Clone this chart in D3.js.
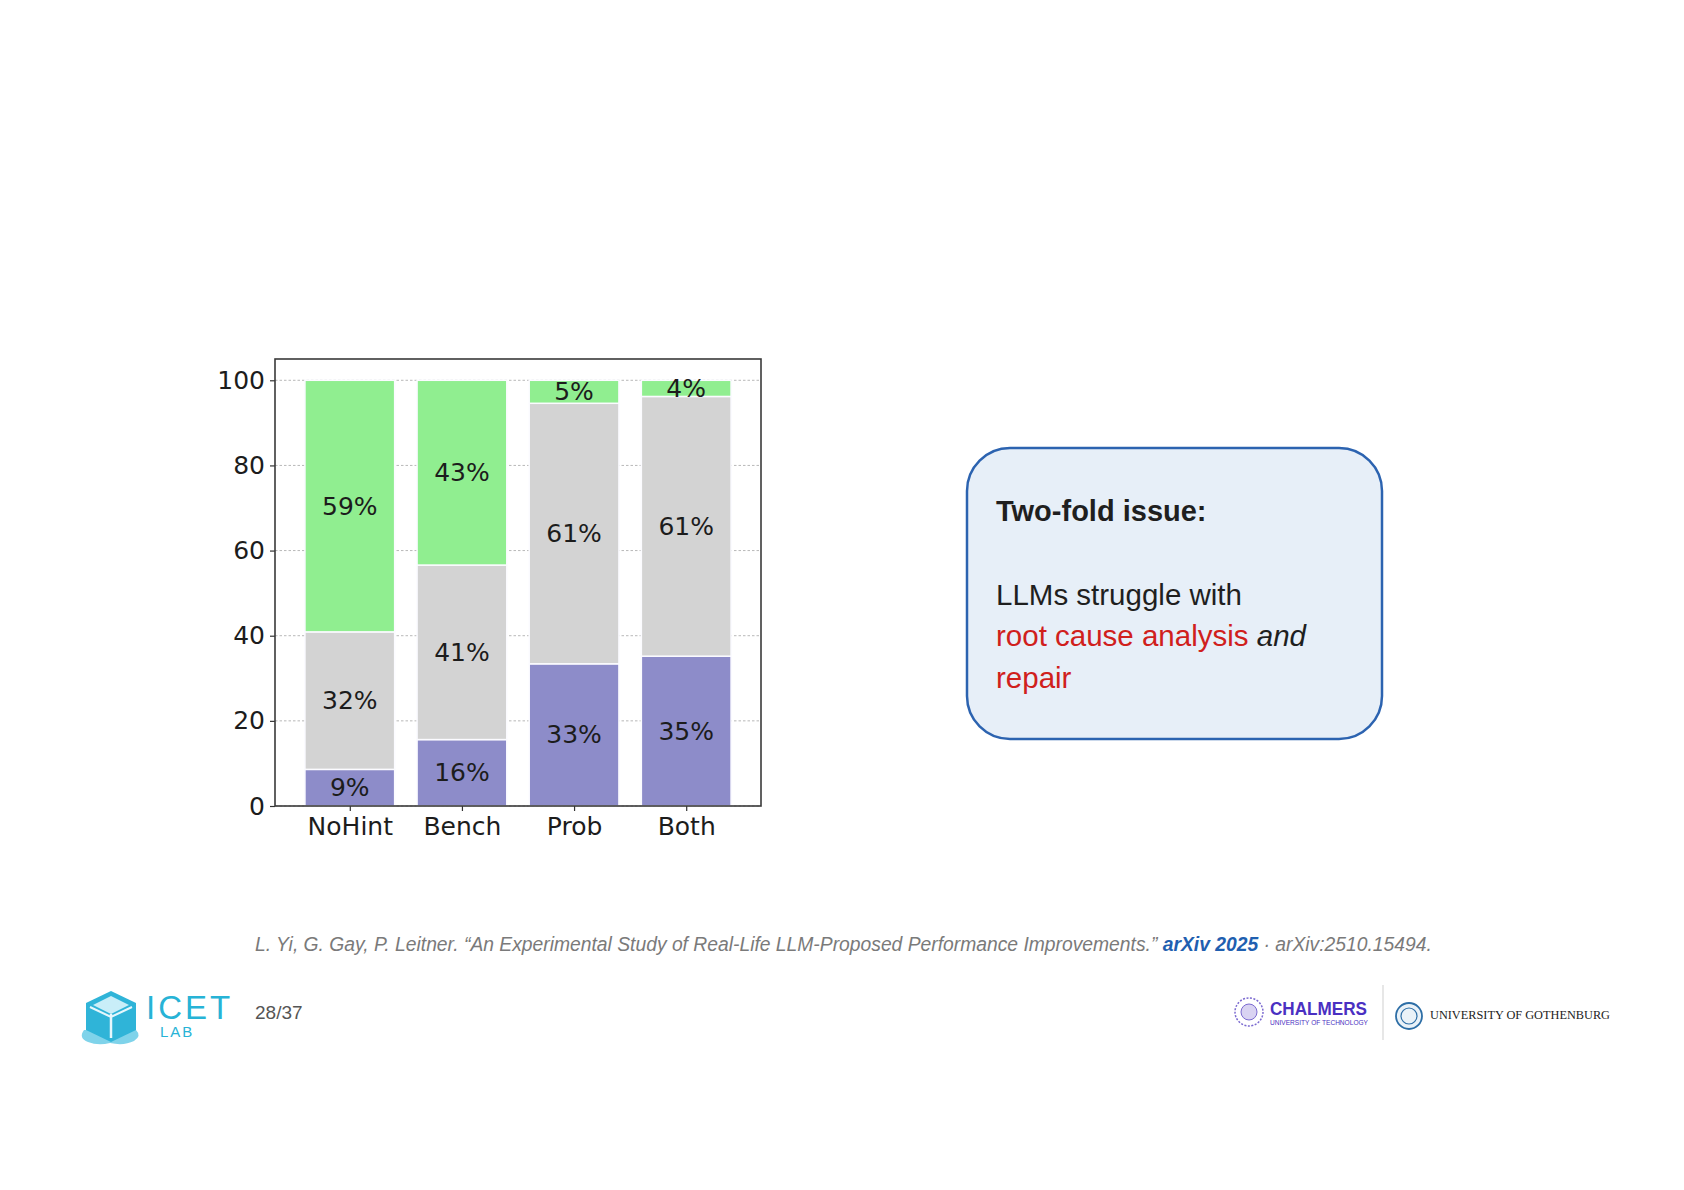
<!DOCTYPE html>
<html>
<head>
<meta charset="utf-8">
<script src="https://cdn.jsdelivr.net/npm/d3@7"></script>
<style>
  html, body { margin: 0; padding: 0; background: #fff; }
  svg { display: block; }
</style>
</head>
<body>
<svg id="slide" width="1684" height="1190"></svg>
<script>
// values (percent of cases per hint setting)
const categories = ["NoHint", "Bench", "Prob", "Both"]
const purpleShare = [8.6, 15.6, 33.4, 35.2]
const grayShare = [32.3, 41.0, 61.2, 61.0]
const greenShare = [59.1, 43.4, 5.4, 3.8]
const yTicks = [0, 20, 40, 60, 80, 100]

const keys = ["purple", "gray", "green"]
const colors = { purple: "#8d8cc9", gray: "#d3d3d3", green: "#90ee90" }

const rows = categories.map((c, i) => ({
  cat: c, idx: i,
  purple: purpleShare[i], gray: grayShare[i], green: greenShare[i]
}))

const svg = d3.select("#slide")

// ---- bar chart ----
const frame = { left: 275, right: 761, top: 359, bottom: 806 }

const x = d3.scaleLinear()
  .domain([-0.667, categories.length - 1 + 0.667])
  .range([frame.left, frame.right])
const y = d3.scaleLinear()
  .domain([0, 105])
  .range([frame.bottom, frame.top])
const barW = x(0.8) - x(0)

const chart = svg.append("g").style("font-family", "'DejaVu Sans', sans-serif")

// dashed grid behind the bars
chart.append("g")
  .selectAll("line")
  .data(yTicks)
  .join("line")
  .attr("x1", frame.left).attr("x2", frame.right)
  .attr("y1", d => y(d)).attr("y2", d => y(d))
  .attr("stroke", "#b8b8b8")
  .attr("stroke-width", 1)
  .attr("stroke-dasharray", "2.5,2")

const stacked = d3.stack().keys(keys)(rows)

const layers = chart.append("g")
  .selectAll("g")
  .data(stacked)
  .join("g")
  .attr("fill", d => colors[d.key])

layers.selectAll("rect")
  .data(d => d)
  .join("rect")
  .attr("x", d => x(d.data.idx) - barW / 2)
  .attr("width", barW)
  .attr("y", d => y(d[1]))
  .attr("height", d => y(d[0]) - y(d[1]))
  .attr("stroke", "#fbfbff")
  .attr("stroke-width", 1.5)

layers.selectAll("text")
  .data(d => d.map(s => ({ s, key: d.key })))
  .join("text")
  .attr("x", d => x(d.s.data.idx))
  .attr("y", d => y((d.s[0] + d.s[1]) / 2))
  .attr("text-anchor", "middle")
  .attr("dominant-baseline", "central")
  .attr("fill", "#1c1c1c")
  .attr("font-size", 25)
  .text(d => Math.round(d.s.data[d.key]) + "%")

// axes
const yAxis = chart.append("g")
  .attr("transform", `translate(${frame.left},0)`)
  .call(d3.axisLeft(y).tickValues(yTicks).tickSize(5).tickPadding(5))
const xAxis = chart.append("g")
  .attr("transform", `translate(0,${frame.bottom})`)
  .call(d3.axisBottom(x).tickValues(d3.range(categories.length))
    .tickFormat(i => categories[i]).tickSize(5).tickPadding(6))

for (const ax of [yAxis, xAxis]) {
  ax.select(".domain").remove()
  ax.selectAll(".tick line").attr("stroke", "#333").attr("stroke-width", 1.2)
  ax.selectAll(".tick text")
    .attr("fill", "#1c1c1c")
    .attr("font-size", 25)
    .attr("font-family", "'DejaVu Sans', sans-serif")
}

chart.append("rect")
  .attr("x", frame.left).attr("y", frame.top)
  .attr("width", frame.right - frame.left)
  .attr("height", frame.bottom - frame.top)
  .attr("fill", "none")
  .attr("stroke", "#3a3a3a")
  .attr("stroke-width", 1.6)

// ---- callout box ----
const box = svg.append("g").style("font-family", "'Liberation Sans', Arial, sans-serif")

box.append("rect")
  .attr("x", 967).attr("y", 448)
  .attr("width", 415).attr("height", 291)
  .attr("rx", 43)
  .attr("fill", "#e7eff8")
  .attr("stroke", "#2c63b0")
  .attr("stroke-width", 2.5)

box.append("text")
  .attr("x", 996).attr("y", 521)
  .attr("font-size", 29).attr("font-weight", "bold")
  .attr("fill", "#1f1f1f")
  .text("Two-fold issue:")

box.append("text")
  .attr("x", 996).attr("y", 605)
  .attr("font-size", 29.5).attr("fill", "#1f1f1f")
  .text("LLMs struggle with")

const line2 = box.append("text")
  .attr("x", 996).attr("y", 646)
  .attr("font-size", 29.5)
line2.append("tspan").attr("fill", "#d0201c").text("root cause analysis ")
line2.append("tspan").attr("fill", "#1f1f1f").attr("font-style", "italic").text("and")

box.append("text")
  .attr("x", 996).attr("y", 688)
  .attr("font-size", 29.5).attr("fill", "#d0201c")
  .text("repair")

// ---- citation & footer ----
const foot = svg.append("g").style("font-family", "'Liberation Sans', Arial, sans-serif")

const cite = foot.append("text")
  .attr("x", 255).attr("y", 951)
  .attr("font-size", 19.3).attr("font-style", "italic")
  .attr("fill", "#7a7a7a")
cite.append("tspan").text("L. Yi, G. Gay, P. Leitner. \u201cAn Experimental Study of Real-Life LLM-Proposed Performance Improvements.\u201d ")
cite.append("tspan").attr("fill", "#1f5fb0").attr("font-weight", "bold").text("arXiv 2025")
cite.append("tspan").text(" \u00b7 arXiv:2510.15494.")

foot.append("text")
  .attr("x", 255).attr("y", 1019)
  .attr("font-size", 19).attr("fill", "#555")
  .text("28/37")

// ICET LAB logo
const icet = foot.append("g")
icet.append("path")
  .attr("d", "M84,1030 q-6,8 4,12 q10,4 22,1 q14,3 24,-2 q8,-5 2,-11 z")
  .attr("fill", "#7fd3ea")
icet.append("polygon")
  .attr("points", "111,991 136,1003 136,1030 111,1042 86,1030 86,1003")
  .attr("fill", "#2fb4d8")
icet.append("polygon")
  .attr("points", "111,996 129,1005 111,1014 93,1005")
  .attr("fill", "#c9eef8")
icet.append("line").attr("x1", 111).attr("y1", 1014).attr("x2", 111).attr("y2", 1038)
  .attr("stroke", "#e6f7fc").attr("stroke-width", 2.5)
icet.append("polyline").attr("points", "90,1007 111,1017 132,1007")
  .attr("fill", "none").attr("stroke", "#e6f7fc").attr("stroke-width", 2)
icet.append("text")
  .attr("x", 146).attr("y", 1019)
  .attr("font-size", 33).attr("fill", "#27b3d6")
  .attr("letter-spacing", 3)
  .text("ICET")
icet.append("text")
  .attr("x", 160).attr("y", 1037)
  .attr("font-size", 15).attr("fill", "#27b3d6")
  .attr("letter-spacing", 2)
  .text("LAB")

// Chalmers logo
const ch = foot.append("g")
ch.append("circle").attr("cx", 1249).attr("cy", 1012).attr("r", 14)
  .attr("fill", "none").attr("stroke", "#7b6ad0").attr("stroke-width", 1.5)
  .attr("stroke-dasharray", "2,1.5")
ch.append("circle").attr("cx", 1249).attr("cy", 1012).attr("r", 8)
  .attr("fill", "#d9d3f2").attr("stroke", "#7b6ad0").attr("stroke-width", 1)
ch.append("text")
  .attr("x", 1270).attr("y", 1015)
  .attr("font-size", 18).attr("font-weight", "bold").attr("fill", "#4a30c2")
  .attr("textLength", 97).attr("lengthAdjust", "spacingAndGlyphs")
  .text("CHALMERS")
ch.append("text")
  .attr("x", 1270).attr("y", 1025)
  .attr("font-size", 6.5).attr("fill", "#4a30c2")
  .attr("textLength", 98).attr("lengthAdjust", "spacingAndGlyphs")
  .text("UNIVERSITY OF TECHNOLOGY")

foot.append("line")
  .attr("x1", 1383).attr("x2", 1383).attr("y1", 985).attr("y2", 1040)
  .attr("stroke", "#cfcfcf").attr("stroke-width", 1)

// University of Gothenburg logo
const gu = foot.append("g")
gu.append("circle").attr("cx", 1409).attr("cy", 1016).attr("r", 13)
  .attr("fill", "#eaf2f8").attr("stroke", "#2d6ea6").attr("stroke-width", 1.8)
gu.append("circle").attr("cx", 1409).attr("cy", 1016).attr("r", 8)
  .attr("fill", "none").attr("stroke", "#2d6ea6").attr("stroke-width", 1.2)
gu.append("text")
  .attr("x", 1430).attr("y", 1019)
  .attr("font-family", "'Liberation Serif', 'DejaVu Serif', serif")
  .attr("font-size", 12.5).attr("fill", "#222")
  .attr("textLength", 180).attr("lengthAdjust", "spacingAndGlyphs")
  .text("UNIVERSITY OF GOTHENBURG")
</script>
</body>
</html>
